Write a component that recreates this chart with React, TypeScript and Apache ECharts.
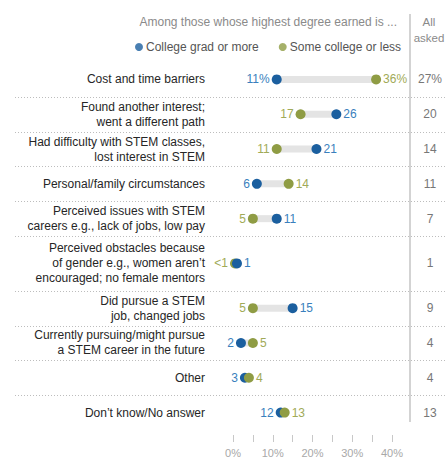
import React, { useEffect, useRef } from "react";
import * as echarts from "echarts";

const categories = [
  "Cost and time barriers",
  "Found another interest;\nwent a different path",
  "Had difficulty with STEM classes,\nlost interest in STEM",
  "Personal/family circumstances",
  "Perceived issues with STEM\ncareers e.g., lack of jobs, low pay",
  "Perceived obstacles because\nof gender e.g., women aren\u2019t\nencouraged; no female mentors",
  "Did pursue a STEM\njob, changed jobs",
  "Currently pursuing/might pursue\na STEM career in the future",
  "Other",
  "Don\u2019t know/No answer",
];
const collegeGrad = [11, 26, 21, 6, 11, 1, 15, 2, 3, 12];
const someCollege = [36, 17, 11, 14, 5, 0.5, 5, 5, 4, 13];
const collegeGradLabels = ["11%", "26", "21", "6", "11", "1", "15", "2", "3", "12"];
const someCollegeLabels = ["36%", "17", "11", "14", "5", "<1", "5", "5", "4", "13"];
const allAsked = ["27%", "20", "14", "11", "7", "1", "9", "4", "4", "13"];
const xTickLabels = [0, 10, 20, 30, 40];

const BLUE = "#1b5f9f";
const GREEN = "#8f9c44";
const BLUE_L = "#3a7fbd";
const GREEN_L = "#a1aa57";
const FONT = '"Liberation Sans", Arial, sans-serif';

// layout of rows (derived from number of label lines)
const rowH = categories.map((c) => (c.split("\n").length > 2 ? 55 : 35));
const rowTop: number[] = [];
rowH.reduce((acc, h) => {
  rowTop.push(acc);
  return acc + h;
}, 0);
const rowCenter = rowTop.map((t, i) => t + rowH[i] / 2);
const totalH = rowH.reduce((a, b) => a + b, 0);

const findRow = (v: number) => rowCenter.findIndex((c) => Math.abs(c - v) < 0.01);

export default function App() {
  const ref = useRef<HTMLDivElement>(null);
  useEffect(() => {
    if (!ref.current) return;
    const chart = echarts.init(ref.current, undefined, { renderer: "svg" });
    const option: any = {
      animation: false,
      textStyle: { fontFamily: FONT },
      grid: { left: 233, right: 54, top: 62, height: totalH },
      legend: {
        selectedMode: false,
        left: 130,
        top: 36,
        icon: "circle",
        itemWidth: 8,
        itemHeight: 8,
        itemGap: 20,
        textStyle: { color: "#555", fontSize: 12, fontFamily: FONT, padding: [0, 0, 0, -2] },
        data: [
          { name: "College grad or more", itemStyle: { color: BLUE } },
          { name: "Some college or less", itemStyle: { color: GREEN } },
        ],
      },
      xAxis: {
        type: "value",
        min: 0,
        max: 40,
        interval: 5,
        position: "bottom",
        offset: 5,
        axisLine: { show: false, onZero: false },
        axisTick: { show: true, length: 7, lineStyle: { color: "#c8c8c8", width: 1 } },
        splitLine: { show: false },
        axisLabel: {
          margin: 12,
          color: "#a8a8a8",
          fontSize: 11,
          fontFamily: FONT,
          formatter: (v: number) => (xTickLabels.includes(v) ? v + "%" : ""),
        },
      },
      yAxis: [
        {
          type: "value",
          inverse: true,
          min: 0,
          max: totalH,
          axisLine: { show: false, onZero: false },
          axisTick: { show: false },
          splitLine: { show: false },
          axisLabel: {
            customValues: rowCenter,
            margin: 28,
            color: "#262626",
            fontSize: 12,
            lineHeight: 15,
            fontFamily: FONT,
            formatter: (v: number) => {
              const i = findRow(v);
              return i >= 0 ? categories[i] : "";
            },
          },
        },
        {
          type: "value",
          inverse: true,
          position: "right",
          min: 0,
          max: totalH,
          axisLine: { show: false, onZero: false },
          axisTick: { show: false },
          splitLine: { show: false },
          axisLabel: {
            customValues: rowCenter,
            margin: 38,
            align: "center",
            color: "#777",
            fontSize: 12,
            fontFamily: FONT,
            formatter: (v: number) => {
              const i = findRow(v);
              return i >= 0 ? allAsked[i] : "";
            },
          },
        },
      ],
      series: [
        {
          type: "custom",
          name: "dumbbell",
          clip: false,
          encode: { x: [0, 1], y: 2 },
          data: categories.map((_, i) => [collegeGrad[i], someCollege[i], rowCenter[i], i]),
          renderItem: (params: any, api: any) => {
            const i = api.value(3);
            const b = api.value(0);
            const g = api.value(1);
            const yv = api.value(2);
            const pb = api.coord([b, yv]);
            const pg = api.coord([g, yv]);
            const y = pb[1];
            const blue = { p: pb, c: BLUE, lc: BLUE_L, t: collegeGradLabels[i] };
            const green = { p: pg, c: GREEN, lc: GREEN_L, t: someCollegeLabels[i] };
            const lo = b < g ? blue : green;
            const hi = b < g ? green : blue;
            return {
              type: "group",
              children: [
                {
                  type: "rect",
                  shape: { x: lo.p[0], y: y - 3.5, width: hi.p[0] - lo.p[0], height: 7 },
                  style: { fill: "#e4e4e4" },
                },
                { type: "circle", shape: { cx: lo.p[0], cy: y, r: 5 }, style: { fill: lo.c } },
                { type: "circle", shape: { cx: hi.p[0], cy: y, r: 5 }, style: { fill: hi.c } },
                {
                  type: "text",
                  x: lo.p[0] - 7,
                  y: y,
                  style: {
                    text: lo.t,
                    align: "right",
                    verticalAlign: "middle",
                    fill: lo.lc,
                    fontSize: 12,
                    fontFamily: FONT,
                  },
                },
                {
                  type: "text",
                  x: hi.p[0] + 7,
                  y: y,
                  style: {
                    text: hi.t,
                    align: "left",
                    verticalAlign: "middle",
                    fill: hi.lc,
                    fontSize: 12,
                    fontFamily: FONT,
                  },
                },
              ],
            };
          },
        },
        { type: "scatter", name: "College grad or more", data: [], itemStyle: { color: BLUE } },
        { type: "scatter", name: "Some college or less", data: [], itemStyle: { color: GREEN } },
      ],
    };
    chart.setOption(option);

    const sepYs = rowTop.slice(1).map((t) => chart.convertToPixel({ yAxisIndex: 0 }, t) as number);
    const bottomY = chart.convertToPixel({ yAxisIndex: 0 }, totalH) as number;
    const graphic: any[] = [
      {
        type: "text",
        x: 397,
        y: 22,
        style: {
          text: "Among those whose highest degree earned is ...",
          align: "right",
          verticalAlign: "middle",
          fill: "#8a8a8a",
          fontSize: 12,
          fontFamily: FONT,
        },
      },
      {
        type: "text",
        x: 429,
        y: 30,
        style: {
          text: "All\nasked",
          align: "center",
          verticalAlign: "middle",
          lineHeight: 16,
          fill: "#8a8a8a",
          fontSize: 11.5,
          fontFamily: FONT,
        },
      },
      {
        type: "line",
        shape: { x1: 410, y1: 14, x2: 410, y2: bottomY - 8 },
        style: { stroke: "#c4c4c4", lineWidth: 1.5 },
      },
      ...sepYs.map((y) => ({
        type: "line",
        shape: { x1: 15, y1: Math.round(y) + 0.5, x2: 446, y2: Math.round(y) + 0.5 },
        style: { stroke: "#bdbdbd", lineWidth: 1, lineDash: [1, 2] },
      })),
    ];
    chart.setOption({ graphic });

    return () => chart.dispose();
  }, []);
  return <div ref={ref} style={{ width: 446, height: 458, position: "absolute", left: 0, top: 0 }} />;
}
